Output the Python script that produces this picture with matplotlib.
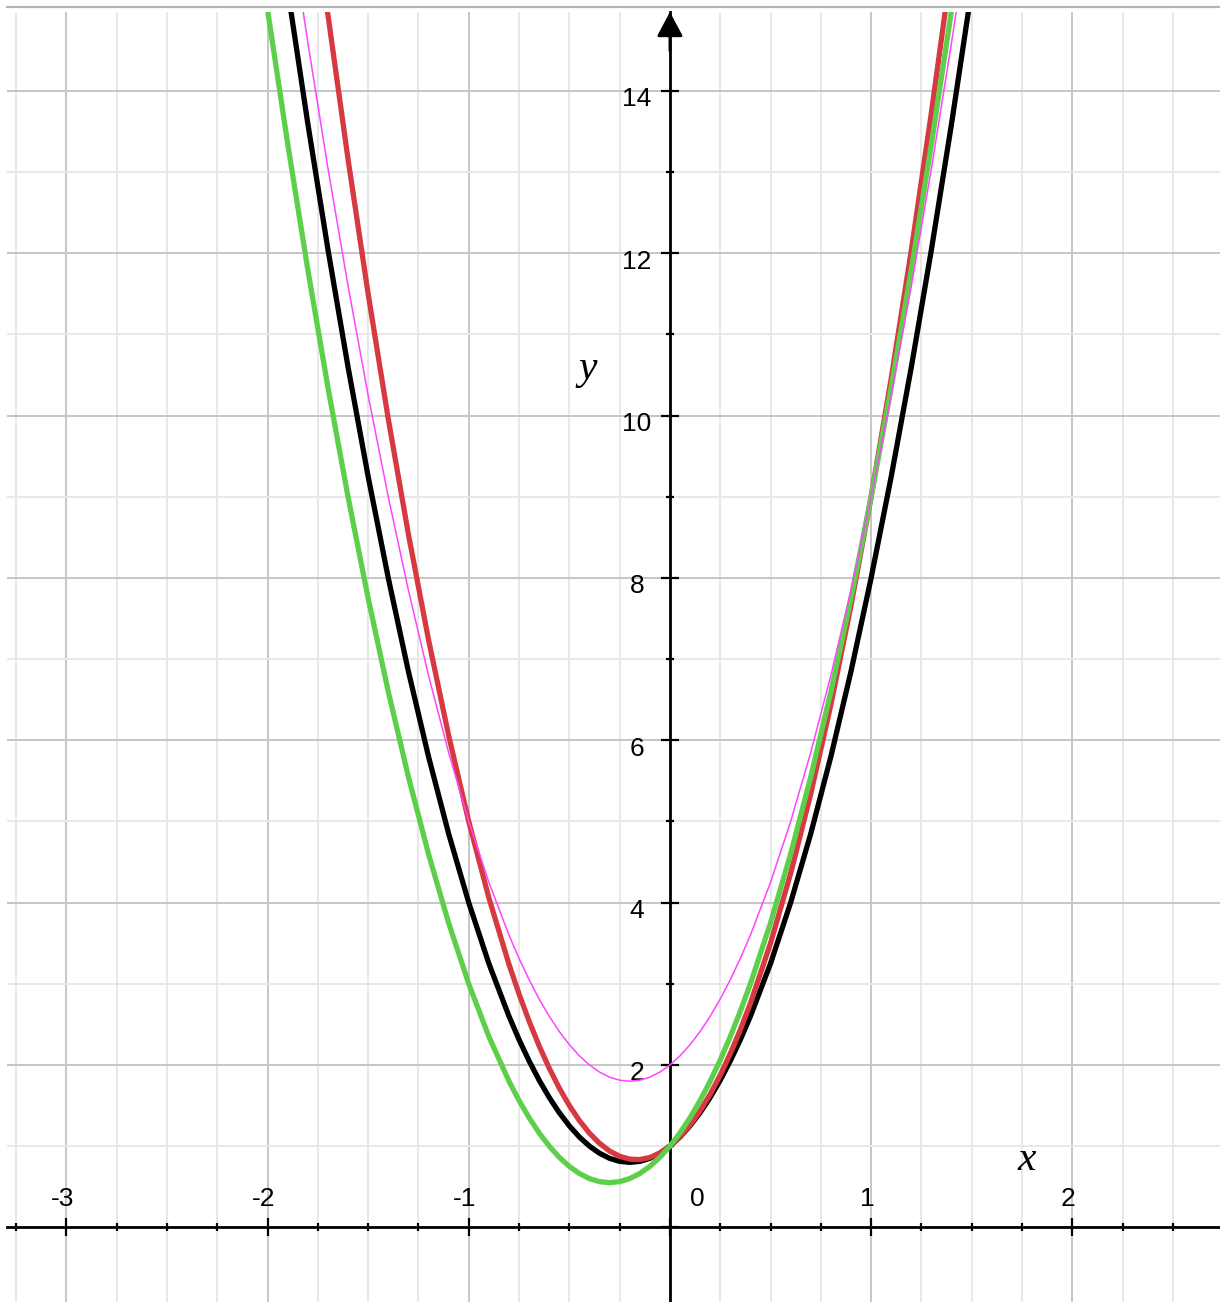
import matplotlib
matplotlib.use("Agg")
import matplotlib.pyplot as plt
from matplotlib.ticker import MultipleLocator
from matplotlib.lines import Line2D

# ---- data ----
x_vals = [-2.1, -2.0, -1.9, -1.8, -1.7, -1.6, -1.5, -1.4, -1.3, -1.2, -1.1, -1.0,
          -0.9, -0.8, -0.75, -0.7, -0.65, -0.6, -0.55, -0.5, -0.45, -0.4, -0.35,
          -0.3, -0.25, -0.2, -0.15, -0.1, -0.05, 0.0, 0.05, 0.1, 0.15, 0.2, 0.25,
          0.3, 0.35, 0.4, 0.5, 0.6, 0.7, 0.8, 0.9, 1.0,
          1.1, 1.2, 1.3, 1.4, 1.5, 1.6]
black_y = [18.85, 17.0, 15.25, 13.6, 12.05, 10.6, 9.25, 8.0, 6.85, 5.8, 4.85, 4.0,
           3.25, 2.6, 2.3125, 2.05, 1.8125, 1.6, 1.4125, 1.25, 1.1125, 1.0, 0.9125,
           0.85, 0.8125, 0.8, 0.8125, 0.85, 0.9125, 1.0, 1.1125, 1.25, 1.4125, 1.6, 1.8125,
           2.05, 2.3125, 2.6, 3.25, 4.0, 4.85, 5.8, 6.85, 8.0,
           9.25, 10.6, 12.05, 13.6, 15.25, 17.0]
magenta_y = [19.85, 18.0, 16.25, 14.6, 13.05, 11.6, 10.25, 9.0, 7.85, 6.8, 5.85, 5.0,
             4.25, 3.6, 3.3125, 3.05, 2.8125, 2.6, 2.4125, 2.25, 2.1125, 2.0, 1.9125,
             1.85, 1.8125, 1.8, 1.8125, 1.85, 1.9125, 2.0, 2.1125, 2.25, 2.4125, 2.6, 2.8125,
             3.05, 3.3125, 3.6, 4.25, 5.0, 5.85, 6.8, 7.85, 9.0,
             10.25, 11.6, 13.05, 14.6, 16.25, 18.0]
red_y = [23.26, 21.0, 18.86, 16.84, 14.94, 13.16, 11.5, 9.96, 8.54, 7.24, 6.06, 5.0,
         4.06, 3.24, 2.875, 2.54, 2.235, 1.96, 1.715, 1.5, 1.315, 1.16, 1.035,
         0.94, 0.875, 0.84, 0.835, 0.86, 0.915, 1.0, 1.115, 1.26, 1.435, 1.64, 1.875,
         2.14, 2.435, 2.76, 3.5, 4.36, 5.34, 6.44, 7.66, 9.0,
         10.46, 12.04, 13.74, 15.56, 17.5, 19.56]
green_y = [16.75, 15.0, 13.35, 11.8, 10.35, 9.0, 7.75, 6.6, 5.55, 4.6, 3.75, 3.0,
           2.35, 1.8, 1.5625, 1.35, 1.1625, 1.0, 0.8625, 0.75, 0.6625, 0.6, 0.5625,
           0.55, 0.5625, 0.6, 0.6625, 0.75, 0.8625, 1.0, 1.1625, 1.35, 1.5625, 1.8, 2.0625,
           2.35, 2.6625, 3.0, 3.75, 4.6, 5.55, 6.6, 7.75, 9.0,
           10.35, 11.8, 13.35, 15.0, 16.75, 18.6]

x_ticks = [-3, -2, -1, 0, 1, 2]
x_tick_labels = ["-3", "-2", "-1", "0", "1", "2"]
y_ticks = [2, 4, 6, 8, 10, 12, 14]
y_tick_labels = ["2", "4", "6", "8", "10", "12", "14"]

# ---- figure ----
W, H = 1220, 1302
fig = plt.figure(figsize=(W / 100, H / 100), dpi=100)
ax = fig.add_axes([7 / W, 0, 1 - 7 / W, 1 - 12 / H])
ax.set_xlim(-3.295, 2.734)
ax.set_ylim(-0.92, 14.972)

ax.xaxis.set_major_locator(MultipleLocator(1))
ax.xaxis.set_minor_locator(MultipleLocator(0.25))
ax.yaxis.set_major_locator(MultipleLocator(2))
ax.yaxis.set_minor_locator(MultipleLocator(1))

ax.set_axisbelow(True)
ax.grid(which="major", color="#c6c6c6", lw=1.4)
ax.grid(which="minor", color="#e8e8e8", lw=1.4)

for s in ("top", "right"):
    ax.spines[s].set_visible(False)
ax.spines["left"].set_position(("data", 0))
ax.spines["bottom"].set_position(("data", 0))
for s in ("left", "bottom"):
    ax.spines[s].set_linewidth(2.0)
    ax.spines[s].set_color("black")
    ax.spines[s].set_zorder(2.5)

ax.tick_params(which="major", direction="inout", length=13, width=1.6, color="black",
               labelbottom=False, labelleft=False)
ax.tick_params(which="minor", direction="inout", length=6, width=1.6, color="black")

# arrow head on the y axis
ax.annotate("", xy=(0, 1.0), xycoords=("data", "axes fraction"),
            xytext=(0, 0.97), textcoords=("data", "axes fraction"),
            arrowprops=dict(arrowstyle="-|>,head_length=0.75,head_width=0.4",
                            mutation_scale=20, color="black", lw=2.0,
                            shrinkA=0, shrinkB=0),
            annotation_clip=False)

# curves
common = dict(solid_joinstyle="round", solid_capstyle="butt")
ax.plot(x_vals, black_y, color="black", lw=3.8, zorder=3, **common)
ax.plot(x_vals, red_y, color="#d63a40", lw=3.8, zorder=4, **common)
ax.plot(x_vals, green_y, color="#5dcf4b", lw=3.8, zorder=5, **common)
ax.plot(x_vals, magenta_y, color="#ff44ff", lw=1.1, zorder=6, **common)

# tick labels
font = ["Liberation Sans", "DejaVu Sans"]
for xv, lab in zip(x_ticks, x_tick_labels):
    xp = xv - 0.02 if xv != 0 else 0.134
    ax.text(xp, 0.26, lab, ha="center", va="baseline", fontsize=19, family=font)
for yv, lab in zip(y_ticks, y_tick_labels):
    ax.text(-0.164, yv - 0.19, lab, ha="center", va="baseline", fontsize=19, family=font)

# axis names
serif = ["Liberation Serif", "DejaVu Serif"]
ax.text(1.774, 0.706, "x", ha="center", va="baseline", fontsize=30, style="italic", family=serif)
ax.text(-0.41, 10.45, "y", ha="center", va="baseline", fontsize=30, style="italic", family=serif)

# top frame line
fig.add_artist(Line2D([7 / W, 1], [1 - 7 / H, 1 - 7 / H], transform=fig.transFigure,
                      color="#b4b4b4", lw=1.6))

fig.savefig("out.png", dpi=100)
